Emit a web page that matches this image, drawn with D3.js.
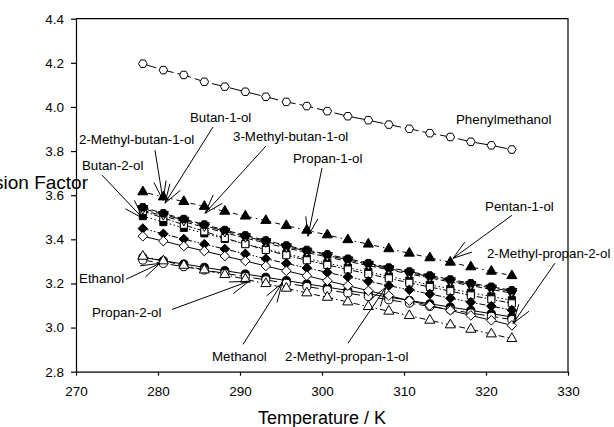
<!DOCTYPE html>
<html>
<head>
<meta charset="utf-8">
<script src="https://cdn.jsdelivr.net/npm/d3@7"></script>
<style>
  body { margin: 0; background: #fff; }
  svg { display: block; font-family: "Liberation Sans", Arial, sans-serif; }
  .axis path, .axis line { stroke: #000; stroke-width: 1.2; }
  .axis text { font-size: 13.5px; fill: #000; }
</style>
</head>
<body>
<div id="chart"></div>
<script>
// Data
const temps = [278.15, 280.65, 283.15, 285.65, 288.15, 290.65, 293.15, 295.65, 298.15, 300.65,
  303.15, 305.65, 308.15, 310.65, 313.15, 315.65, 318.15, 320.65, 323.15]

const methanol = [3.318, 3.303, 3.288, 3.273, 3.258, 3.243, 3.228, 3.213, 3.198, 3.183, 3.168, 3.153, 3.138, 3.123, 3.108, 3.093, 3.078, 3.063, 3.048]
const ethanol = [3.306, 3.291, 3.276, 3.261, 3.246, 3.231, 3.216, 3.201, 3.186, 3.171, 3.156, 3.141, 3.126, 3.111, 3.096, 3.081, 3.066, 3.051, 3.036]
const propan1ol = [3.532, 3.506, 3.480, 3.455, 3.430, 3.406, 3.383, 3.361, 3.340, 3.320, 3.300, 3.281, 3.262, 3.243, 3.225, 3.207, 3.190, 3.173, 3.156]
const propan2ol = [3.323, 3.302, 3.282, 3.261, 3.240, 3.219, 3.199, 3.178, 3.157, 3.137, 3.116, 3.095, 3.074, 3.054, 3.033, 3.012, 2.992, 2.971, 2.950]
const butan1ol = [3.505, 3.478, 3.452, 3.427, 3.402, 3.379, 3.356, 3.334, 3.313, 3.292, 3.272, 3.252, 3.232, 3.213, 3.194, 3.176, 3.158, 3.141, 3.124]
const butan2ol = [3.528, 3.497, 3.466, 3.436, 3.406, 3.378, 3.352, 3.328, 3.305, 3.284, 3.263, 3.243, 3.223, 3.203, 3.184, 3.165, 3.146, 3.128, 3.110]
const methylPropan1ol = [3.449, 3.425, 3.401, 3.378, 3.356, 3.334, 3.312, 3.291, 3.270, 3.250, 3.230, 3.210, 3.190, 3.171, 3.152, 3.133, 3.115, 3.097, 3.079]
const methylPropan2ol = [3.414, 3.392, 3.369, 3.347, 3.324, 3.302, 3.279, 3.257, 3.235, 3.212, 3.190, 3.167, 3.145, 3.122, 3.100, 3.078, 3.055, 3.033, 3.010]
const pentan1ol = [3.615, 3.592, 3.571, 3.549, 3.527, 3.505, 3.485, 3.462, 3.441, 3.420, 3.398, 3.378, 3.357, 3.337, 3.316, 3.296, 3.275, 3.255, 3.235]
const methylButan2 = [3.540, 3.513, 3.487, 3.462, 3.437, 3.413, 3.390, 3.367, 3.347, 3.327, 3.307, 3.287, 3.267, 3.249, 3.231, 3.213, 3.196, 3.180, 3.164]
const methylButan3 = [3.545, 3.518, 3.492, 3.467, 3.442, 3.418, 3.395, 3.372, 3.352, 3.332, 3.312, 3.292, 3.272, 3.254, 3.236, 3.218, 3.201, 3.185, 3.169]
const phenylmethanol = [4.196, 4.167, 4.145, 4.114, 4.092, 4.069, 4.046, 4.023, 4.004, 3.981, 3.958, 3.940, 3.920, 3.901, 3.881, 3.864, 3.842, 3.826, 3.807]

const xTicks = [270, 280, 290, 300, 310, 320, 330]
const yTicks = [2.8, 3.0, 3.2, 3.4, 3.6, 3.8, 4.0, 4.2, 4.4]

// label: text, text anchor point [T, value], arrow [from T, from v, to T, to v]
const labels = [
  { text: "Phenylmethanol", at: [316.34, 3.922] },
  { text: "Butan-1-ol", at: [283.90, 3.931], arrow: [286.71, 3.909, 280.85, 3.564] },
  { text: "2-Methyl-butan-1-ol", at: [270.37, 3.832], arrow: [279.63, 3.804, 280.61, 3.577] },
  { text: "3-Methyl-butan-1-ol", at: [289.15, 3.845], arrow: [293.17, 3.823, 285.73, 3.518] },
  { text: "Butan-2-ol", at: [270.73, 3.714], arrow: [273.17, 3.691, 278.17, 3.495] },
  { text: "Propan-1-ol", at: [296.46, 3.745], arrow: [300.00, 3.723, 298.29, 3.414] },
  { text: "Pentan-1-ol", at: [319.88, 3.528], arrow: [323.17, 3.509, 315.98, 3.314] },
  { text: "2-Methyl-propan-2-ol", at: [320.12, 3.315], arrow: [328.41, 3.292, 323.29, 3.019] },
  { text: "Ethanol", at: [270.37, 3.201], arrow: [276.10, 3.219, 280.24, 3.291] },
  { text: "Propan-2-ol", at: [271.95, 3.050], arrow: [281.71, 3.082, 291.10, 3.210] },
  { text: "Methanol", at: [286.59, 2.847], arrow: [290.37, 2.924, 295.12, 3.201] },
  { text: "2-Methyl-propan-1-ol", at: [295.49, 2.847], arrow: [303.17, 2.929, 307.80, 3.183] },
]

// series: values, marker, filled, dash
const series = [
  { values: methanol, marker: "circle", filled: true, dash: null },
  { values: ethanol, marker: "circle", filled: false, dash: "10,4" },
  { values: propan1ol, marker: "triangleDown", filled: true, dash: "6,3" },
  { values: propan2ol, marker: "triangle", filled: false, dash: "6,3,1.5,3" },
  { values: butan1ol, marker: "square", filled: true, dash: "1.5,2.5" },
  { values: butan2ol, marker: "square", filled: false, dash: "6,2,1.5,2" },
  { values: methylPropan1ol, marker: "diamond", filled: true, dash: "6,2,1.5,2,1.5,2" },
  { values: methylPropan2ol, marker: "diamond", filled: false, dash: null },
  { values: pentan1ol, marker: "triangle", filled: true, dash: "1.5,4,5,4" },
  { values: methylButan2, marker: "triangleDown", filled: false, dash: "10,4" },
  { values: methylButan3, marker: "hexagon", filled: true, dash: "6,3" },
  { values: phenylmethanol, marker: "hexagon", filled: false, dash: "14,4" },
]

// Dimensions
const width = 614
const height = 427
const plot = { left: 76, right: 568, top: 18.7, bottom: 371.7 }

const svg = d3.select("#chart")
  .append("svg")
  .attr("width", width)
  .attr("height", height)

svg.append("rect").attr("width", width).attr("height", height).attr("fill", "#fff")

// Scales
const xScale = d3.scaleLinear().domain([270, 330]).range([plot.left, plot.right])
const yScale = d3.scaleLinear().domain([2.8, 4.4]).range([plot.bottom, plot.top])

// Markers
function hexPath(r) {
  const pts = d3.range(6).map(i => {
    const a = Math.PI / 3 * i
    return [r * Math.cos(a), r * Math.sin(a)]
  })
  return "M" + pts.map(p => p.join(",")).join("L") + "Z"
}
function markerPath(type) {
  if (type === "circle") return d3.symbol(d3.symbolCircle, 52)()
  if (type === "square") return d3.symbol(d3.symbolSquare, 50)()
  if (type === "triangle") return d3.symbol(d3.symbolTriangle, 44)()
  if (type === "triangleDown") return d3.symbol(d3.symbolTriangle, 44)()
  if (type === "diamond") return "M0,-4.8L4.8,0L0,4.8L-4.8,0Z"
  if (type === "hexagon") return hexPath(4.3)
}

// Lines, then markers, series by series
const lineGenerator = d3.line()
  .x((d, i) => xScale(temps[i]))
  .y(d => yScale(d))

series.forEach(s => {
  const g = svg.append("g")
  g.append("path")
    .datum(s.values)
    .attr("d", lineGenerator)
    .attr("fill", "none")
    .attr("stroke", "#000")
    .attr("stroke-width", 1)
    .attr("stroke-dasharray", s.dash)

  g.selectAll("path.pt")
    .data(s.values)
    .join("path")
    .attr("class", "pt")
    .attr("d", markerPath(s.marker))
    .attr("transform", (d, i) =>
      `translate(${xScale(temps[i])},${yScale(d)})` + (s.marker === "triangleDown" ? " rotate(180)" : ""))
    .attr("fill", s.filled ? "#000" : "#fff")
    .attr("stroke", "#000")
    .attr("stroke-width", 1)
})

// Axes
const xAxis = d3.axisBottom(xScale)
  .tickValues(xTicks)
  .tickSizeInner(4)
  .tickSizeOuter(0)
  .tickPadding(11)
  .tickFormat(d3.format("d"))

const yAxis = d3.axisLeft(yScale)
  .tickValues(yTicks)
  .tickSizeInner(5)
  .tickSizeOuter(0)
  .tickPadding(7)
  .tickFormat(d3.format(".1f"))

svg.append("g")
  .attr("class", "axis")
  .attr("transform", `translate(0,${plot.bottom})`)
  .call(xAxis)
  .call(g => g.selectAll("text").attr("dy", "0.71em"))

svg.append("g")
  .attr("class", "axis")
  .attr("transform", `translate(${plot.left},0)`)
  .call(yAxis)

// frame top/right
svg.append("path")
  .attr("d", `M${plot.left},${plot.top}H${plot.right}V${plot.bottom}`)
  .attr("fill", "none")
  .attr("stroke", "#000")
  .attr("stroke-width", 1.2)

// Axis titles
svg.append("text")
  .attr("x", (plot.left + plot.right) / 2)
  .attr("y", 424)
  .attr("text-anchor", "middle")
  .attr("font-size", 18)
  .text("Temperature / K")

svg.append("text")
  .attr("x", 88)
  .attr("y", 189)
  .attr("text-anchor", "end")
  .attr("font-size", 19)
  .text("Expansion Factor")

// Annotations
const ann = svg.append("g")
labels.forEach(l => {
  ann.append("text")
    .attr("x", xScale(l.at[0]))
    .attr("y", yScale(l.at[1]))
    .attr("font-size", 13.3)
    .text(l.text)

  if (l.arrow) {
    const x1 = xScale(l.arrow[0]), y1 = yScale(l.arrow[1])
    const x2 = xScale(l.arrow[2]), y2 = yScale(l.arrow[3])
    const ang = Math.atan2(y1 - y2, x1 - x2)
    const head = 20, spread = 18 * Math.PI / 180
    const p = d3.path()
    p.moveTo(x1, y1); p.lineTo(x2, y2)
    p.moveTo(x2 + head * Math.cos(ang + spread), y2 + head * Math.sin(ang + spread))
    p.lineTo(x2, y2)
    p.lineTo(x2 + head * Math.cos(ang - spread), y2 + head * Math.sin(ang - spread))
    ann.append("path")
      .attr("d", p.toString())
      .attr("fill", "none")
      .attr("stroke", "#000")
      .attr("stroke-width", 1)
  }
})
</script>
</body>
</html>
